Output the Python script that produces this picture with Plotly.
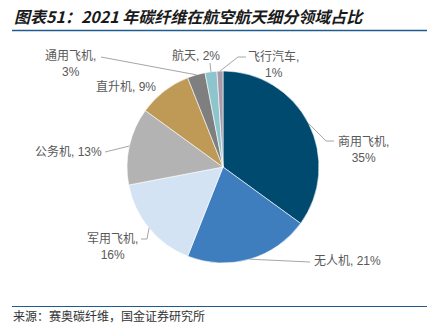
import math
import plotly.graph_objects as go

categories = ["商用飞机", "无人机", "军用飞机", "公务机", "直升机", "通用飞机", "航天", "飞行汽车"]
values = [35, 21, 16, 13, 9, 3, 2, 1]
colors = ["#004A70", "#3F7EBE", "#D3E3F3", "#B3B3B3", "#BE9A56", "#7F7F7F", "#8EC5CC", "#A89AA8"]

W, H = 427, 325
CX, CY, R = 223, 167, 96

def px(x):
    return x / W

def py(y):
    return 1 - y / H

fig = go.Figure(go.Pie(
    labels=categories, values=values, sort=False, direction="clockwise", rotation=0,
    marker=dict(colors=colors, line=dict(color="white", width=0.6)),
    textinfo="none", hoverinfo="label+percent", showlegend=False,
    domain=dict(x=[px(CX - R), px(CX + R)], y=[py(CY + R), py(CY - R)]),
))

# slice mid-point on the rim, computed from data
total = sum(values)
rim = {}
cum = 0
for c, v in zip(categories, values):
    mid = (cum + v / 2) / total * 2 * math.pi
    rim[c] = (CX + R * math.sin(mid), CY - R * math.cos(mid))
    cum += v

# label text positions (pixel), leader elbow points
labels = {
    "商用飞机": dict(text="商用飞机,<br>35%", x=363, y=149, elbow=[(326, 141), (334, 141)]),
    "无人机": dict(text="无人机, 21%", x=347, y=261, elbow=[(310, 262)]),
    "军用飞机": dict(text="军用飞机,<br>16%", x=112, y=247, elbow=[(147, 239), (141, 239)]),
    "公务机": dict(text="公务机, 13%", x=68, y=151, elbow=[(105, 152)]),
    "直升机": dict(text="直升机, 9%", x=126, y=87, elbow=None),
    "通用飞机": dict(text="通用飞机,<br>3%", x=70, y=64, elbow=[(101, 57)]),
    "航天": dict(text="航天, 2%", x=196, y=55, elbow=[(210, 63)]),
    "飞行汽车": dict(text="飞行汽车,<br>1%", x=273, y=64, elbow=[(238, 57), (246, 57)]),
}

font_lbl = dict(family="Liberation Sans, Arial, Noto Sans CJK SC", size=12, color="#595959")
shapes = []
annotations = []
for c in categories:
    L = labels[c]
    annotations.append(dict(x=px(L["x"]), y=py(L["y"]), xref="paper", yref="paper",
                            text=L["text"], showarrow=False, font=font_lbl,
                            xanchor="center", yanchor="middle", align="center"))
    if L["elbow"]:
        pts = [rim[c]] + L["elbow"]
        path = "M " + " L ".join(f"{px(a)} {py(b)}" for a, b in pts)
        shapes.append(dict(type="path", path=path, xref="paper", yref="paper",
                           line=dict(color="#A6A6A6", width=1)))

# title and source with rules
annotations.append(dict(x=px(12), y=py(16), xref="paper", yref="paper", xanchor="left", yanchor="middle",
                        text="<b><i>图表51：2021 年碳纤维在航空航天细分领域占比</i></b>", showarrow=False,
                        font=dict(family="Noto Sans CJK SC", size=16, color="#1a1a1a")))
annotations.append(dict(x=px(12), y=py(324.5), xref="paper", yref="paper", xanchor="left", yanchor="bottom",
                        text="来源：赛奥碳纤维，国金证券研究所", showarrow=False, borderpad=0,
                        font=dict(family="Noto Sans CJK SC", size=12, color="#333333")))
shapes.append(dict(type="line", xref="paper", yref="paper", x0=px(12), x1=1, y0=py(30.5), y1=py(30.5),
                   line=dict(color="#1F5B8E", width=1.5)))
shapes.append(dict(type="line", xref="paper", yref="paper", x0=px(12), x1=1, y0=py(306.5), y1=py(306.5),
                   line=dict(color="#1F5B8E", width=1.2)))

fig.update_layout(width=W, height=H, margin=dict(l=0, r=0, t=0, b=0),
                  paper_bgcolor="white", plot_bgcolor="white",
                  shapes=shapes, annotations=annotations)
fig.write_html("out.html")
